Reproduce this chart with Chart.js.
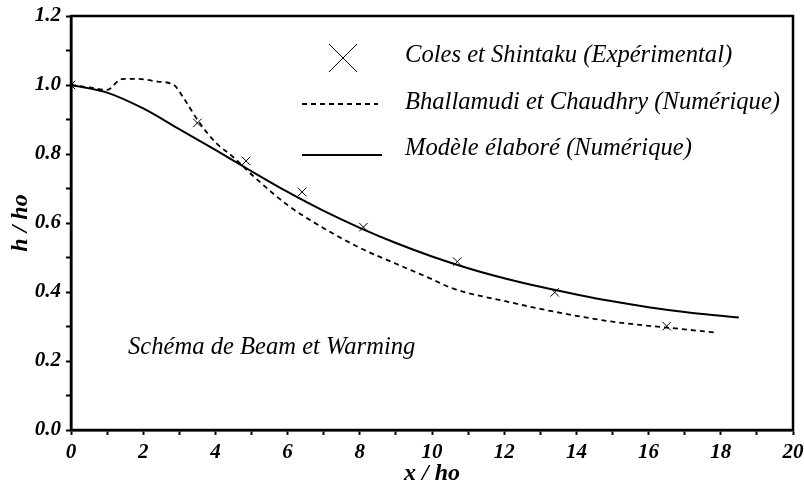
<!DOCTYPE html>
<html><head><meta charset="utf-8">
<script src="https://cdn.jsdelivr.net/npm/chart.js@4/dist/chart.umd.min.js"></script>
<style>html,body{margin:0;padding:0;background:#fff}#wrap{width:804px;height:487px}</style>
</head><body><div id="wrap"><canvas id="c" width="804" height="487"></canvas></div>
<script>
// Experimental points (Coles et Shintaku)
const expX = [0, 3.5, 4.85, 6.4, 8.1, 10.7, 13.4, 16.5];
const expY = [1.0, 0.89, 0.78, 0.69, 0.588, 0.488, 0.399, 0.301];
// Bhallamudi et Chaudhry (dashed)
const bcX = [0, 0.5, 1.0, 1.4, 1.8, 2.4, 2.85, 3.15, 3.57, 4.04, 4.45, 4.68, 5.05, 6.0, 7.0, 8.0, 9.0, 10.0, 10.5, 11.0, 12.0, 13.0, 14.0, 15.0, 16.0, 16.68, 17.9];
const bcY = [1.0, 0.993, 0.986, 1.017, 1.018, 1.01, 1.0, 0.957, 0.889, 0.83, 0.795, 0.773, 0.736, 0.652, 0.585, 0.528, 0.482, 0.437, 0.413, 0.397, 0.374, 0.351, 0.331, 0.314, 0.302, 0.295, 0.282];
// Modèle élaboré (solid)
const mdX = [0, 1, 2, 3, 4, 5, 6, 7, 8, 9, 10, 11, 12, 13, 14, 15, 16, 17, 18, 18.5];
const mdY = [1.0, 0.978, 0.932, 0.872, 0.812, 0.75, 0.69, 0.635, 0.586, 0.542, 0.503, 0.469, 0.44, 0.415, 0.393, 0.373, 0.356, 0.342, 0.331, 0.326];
const legendLabels = ["Coles et Shintaku (Expérimental)", "Bhallamudi et Chaudhry (Numérique)", "Modèle élaboré (Numérique)"];
const noteText = "Schéma de Beam et Warming";
const xTitle = "x / ho";
const yTitle = "h / ho";

const pts = (xs, ys) => xs.map((x, i) => ({x: x, y: ys[i]}));
const SERIF = "'Liberation Serif', 'Times New Roman', serif";

const framePlugin = {
  id: 'frame',
  afterDraw(chart) {
    const {ctx, chartArea: a} = chart;
    ctx.save();
    ctx.strokeStyle = '#000';
    ctx.lineWidth = 2.5;
    ctx.strokeRect(a.left, a.top, a.right - a.left, a.bottom - a.top);
    // legend
    const ds = chart.data.datasets;
    const lx0 = a.left + 231, lx1 = a.left + 307, tx = a.left + 334;
    const rows = [a.top + 40, a.top + 87, a.top + 133];
    // cross symbol
    ctx.lineWidth = 1;
    const cx = a.left + 272, cy = a.top + 42, s = 14;
    ctx.beginPath();
    ctx.moveTo(cx - s, cy - s); ctx.lineTo(cx + s, cy + s);
    ctx.moveTo(cx - s, cy + s); ctx.lineTo(cx + s, cy - s);
    ctx.stroke();
    // dashed
    ctx.lineWidth = ds[1].borderWidth;
    ctx.setLineDash(ds[1].borderDash);
    ctx.beginPath(); ctx.moveTo(lx0, a.top + 88); ctx.lineTo(lx1, a.top + 88); ctx.stroke();
    ctx.setLineDash([]);
    ctx.lineWidth = ds[2].borderWidth;
    ctx.beginPath(); ctx.moveTo(lx0, a.top + 139); ctx.lineTo(lx1 + 4, a.top + 139); ctx.stroke();
    ctx.fillStyle = '#000';
    ctx.font = "italic 24.6px " + SERIF;
    ctx.textBaseline = 'middle';
    ctx.textAlign = 'left';
    legendLabels.forEach((t, i) => ctx.fillText(t, tx, rows[i]));
    ctx.fillText(noteText, a.left + 57, a.top + 332);
    ctx.restore();
  }
};

new Chart(document.getElementById('c'), {
  type: 'line',
  data: {
    datasets: [
      {label: legendLabels[0], type: 'scatter', data: pts(expX, expY), pointStyle: 'crossRot', pointRadius: 6, pointBorderWidth: 1, borderColor: '#000', backgroundColor: '#000', showLine: false},
      {label: legendLabels[1], data: pts(bcX, bcY), borderColor: '#000', borderWidth: 1.8, borderDash: [5, 4], pointRadius: 0, fill: false, cubicInterpolationMode: 'monotone'},
      {label: legendLabels[2], data: pts(mdX, mdY), borderColor: '#000', borderWidth: 2, pointRadius: 0, fill: false, cubicInterpolationMode: 'monotone'}
    ]
  },
  options: {
    responsive: false,
    animation: false,
    events: [],
    layout: {padding: {top: 16, right: 11, left: 0, bottom: 0}},
    plugins: {legend: {display: false}, tooltip: {enabled: false}},
    scales: {
      x: {
        type: 'linear', min: 0, max: 20,
        border: {display: true, color: '#000', width: 2.5},
        grid: {drawOnChartArea: false, drawTicks: true, tickLength: 5, color: '#000', tickWidth: 2},
        ticks: {
          stepSize: 1, color: '#000', padding: 5, maxRotation: 0, autoSkip: false,
          font: {family: SERIF, size: 21, style: 'italic', weight: 'bold'},
          callback: v => (Math.round(v) % 2 === 0 ? String(Math.round(v)) : '')
        },
        title: {display: true, text: xTitle, color: '#000', padding: {top: 0, bottom: -1},
          font: {family: SERIF, size: 24, style: 'italic', weight: 'bold'}},
        afterFit: s => { s.height = 57; s.paddingRight = 0; s.paddingLeft = 0; }
      },
      y: {
        type: 'linear', min: 0, max: 1.2,
        border: {display: true, color: '#000', width: 2.5},
        grid: {drawOnChartArea: false, drawTicks: true, tickLength: 5, color: '#000', tickWidth: 2},
        ticks: {
          stepSize: 0.1, color: '#000', padding: 5, autoSkip: false,
          font: {family: SERIF, size: 21, style: 'italic', weight: 'bold'},
          callback: v => (Math.round(v * 10) % 2 === 0 ? v.toFixed(1) : '')
        },
        title: {display: true, text: yTitle, color: '#000', padding: {top: 6, bottom: 0},
          font: {family: SERIF, size: 24, style: 'italic', weight: 'bold'}},
        afterFit: s => { s.width = 71; s.paddingTop = 0; s.paddingBottom = 0; }
      }
    }
  },
  plugins: [framePlugin]
});
</script></body></html>
